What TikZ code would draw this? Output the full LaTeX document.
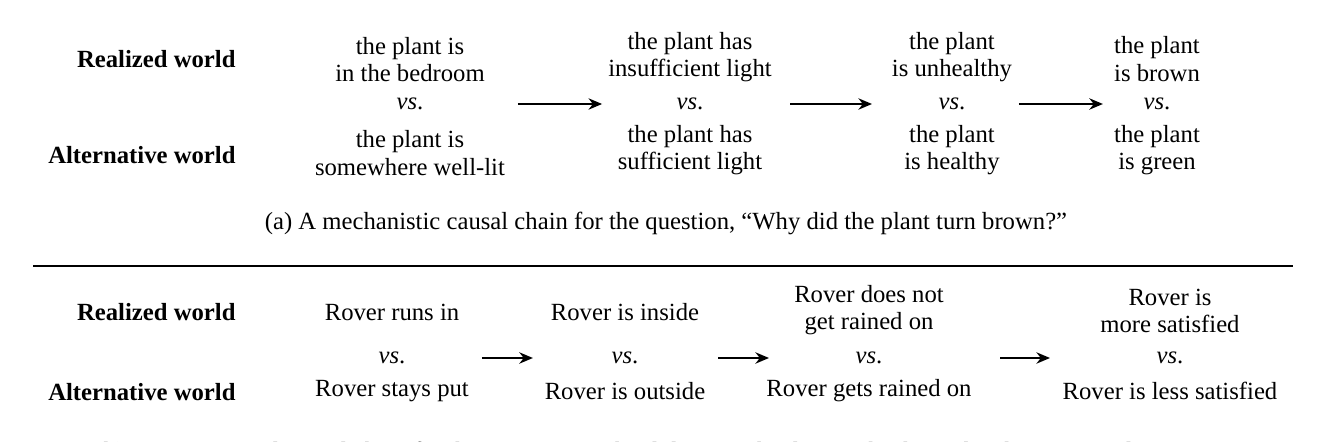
\documentclass[tikz,border=0pt]{standalone}
\usepackage{fontspec}
\setmainfont{Liberation Serif}
\usetikzlibrary{arrows.meta}
\tikzset{worldlbl/.style={anchor=east,inner sep=0pt,font=\fontsize{10}{11}\selectfont\bfseries},
         event/.style={align=center,inner sep=0pt,font=\fontsize{10}{11}\selectfont},
         versus/.style={inner sep=0pt,font=\fontsize{10}{11}\selectfont},
         capt/.style={anchor=base,inner sep=0pt,font=\fontsize{10}{11}\selectfont},
         causal/.style={-{Stealth[length=5.5pt,width=4.6pt]},line width=0.8pt}}

\begin{document}
\begin{tikzpicture}[x=0.405pt,y=-0.405pt]
\useasboundingbox (0,0) rectangle (1324,442);
% (a) plant chain
\node[worldlbl] (ra) at (236,59) {Realized world};
\node[worldlbl] (aa) at (236,155) {Alternative world};
\node[event] (ra1) at (410,59.5) {the plant is\\in the bedroom};
\node[versus] (va1) at (410,104) {\textit{vs}.};
\node[event] (aa1) at (410,153) {the plant is\\somewhere well-lit};
\node[event] (ra2) at (690,57) {the plant has\\insufficient light};
\node[versus] (va2) at (690,104) {\textit{vs}.};
\node[event] (aa2) at (690,150.5) {the plant has\\sufficient light};
\node[event] (ra3) at (952,57) {the plant\\is unhealthy};
\node[versus] (va3) at (952,104) {\textit{vs}.};
\node[event] (aa3) at (952,150.5) {the plant\\is healthy};
\node[event] (ra4) at (1157,59) {the plant\\is brown};
\node[versus] (va4) at (1157,104) {\textit{vs}.};
\node[event] (aa4) at (1157,150.5) {the plant\\is green};
\draw[causal,shorten <=43.7pt,shorten >=35.6pt] (va1.center) -- (va2.center);
\draw[causal,shorten <=40.5pt,shorten >=32.4pt] (va2.center) -- (va3.center);
\draw[causal,shorten <=27.1pt,shorten >=21.9pt] (va3.center) -- (va4.center);
\node[capt] (capa) at (666,230) {(a) A mechanistic causal chain for the question, ``Why did the plant turn brown?''};
% rule between the panels
\coordinate (rl) at (33,266);
\coordinate (rr) at (1293,266);
\draw[line width=0.5pt] (rl) -- (rr);
% (b) Rover chain
\node[worldlbl] (rb) at (236,312) {Realized world};
\node[worldlbl] (ab) at (236,392) {Alternative world};
\node[event] (rb1) at (392,312) {Rover runs in};
\node[versus] (vb1) at (392,358) {\textit{vs}.};
\node[event] (ab1) at (392,391) {Rover stays put};
\node[event] (rb2) at (625,312) {Rover is inside};
\node[versus] (vb2) at (625,358) {\textit{vs}.};
\node[event] (ab2) at (625,391) {Rover is outside};
\node[event] (rb3) at (869,310) {Rover does not\\get rained on};
\node[versus] (vb3) at (869,358) {\textit{vs}.};
\node[event] (ab3) at (869,391) {Rover gets rained on};
\node[event] (rb4) at (1170,311) {Rover is\\more satisfied};
\node[versus] (vb4) at (1170,358) {\textit{vs}.};
\node[event] (ab4) at (1170,391) {Rover is less satisfied};
\draw[causal,shorten <=36.4pt,shorten >=37.3pt] (vb1.center) -- (vb2.center);
\draw[causal,shorten <=37.7pt,shorten >=40.5pt] (vb2.center) -- (vb3.center);
\draw[causal,shorten <=53.1pt,shorten >=48.6pt] (vb3.center) -- (vb4.center);
\node[capt] (capb) at (663,460) {(b) A motivational causal chain for the question, ``Why did Rover the dog run back inside when it started raining?''};
\end{tikzpicture}
\end{document}
